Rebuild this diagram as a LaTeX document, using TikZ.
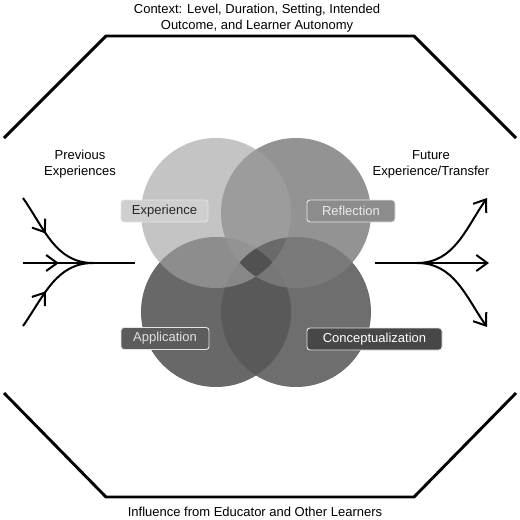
\documentclass[tikz,border=0pt]{standalone}
\usepackage{fontspec}
\setmainfont{Liberation Sans}
\usetikzlibrary{arrows.meta,decorations.markings}
\definecolor{expfill}{gray}{0.635}
\definecolor{reffill}{gray}{0.49}
\definecolor{appfill}{gray}{0.306}
\definecolor{confill}{gray}{0.345}
\definecolor{rimgray}{gray}{0.9}
\begin{document}
\begin{tikzpicture}[x=1pt,y=-1pt]
    \tikzstyle{every node}+=[inner sep=0pt]
    \tikzstyle{rim}=[black, line width=2.9pt, line join=miter]
    \tikzstyle{flow}=[black, line width=2pt]
    \tikzstyle{barb}=[-{Straight Barb[length=11pt,width=16pt]}]
    \tikzstyle{midbarb}=[postaction={decorate}, decoration={markings, mark=at position #1 with {\arrow{Straight Barb[length=11pt,width=16pt]}}}]
    \tikzstyle{caption}=[align=center, font=\fontsize{13}{16}\selectfont]
    \tikzstyle{phase}=[rounded corners=3pt, draw=rimgray, line width=0.9pt, minimum height=22pt, font=\fontsize{13}{15}\selectfont]
    \useasboundingbox (0,0) rectangle (520,520);
    \draw [rim] (4,138) -- (106,36) -- (414,36) -- (516,138);
    \draw [rim] (4,393) -- (106,497) -- (414,497) -- (516,393);
    \node (ctx) at (257,18.4) [caption] {Context: Level, Duration, Setting, Intended\\Outcome, and Learner Autonomy};
    \node (infl) at (255,512) [caption] {Influence from Educator and Other Learners};
    \node (prev) at (80,164) [caption] {Previous\\Experiences};
    \node (fut) at (431,164.5) [caption] {Future\\Experience/Transfer};
    \fill [appfill, fill opacity=0.85] (216,312) circle [radius=75pt];
    \fill [confill, fill opacity=0.87] (296,312) circle [radius=75pt];
    \fill [reffill, fill opacity=0.83] (296,213) circle [radius=75pt];
    \fill [expfill, fill opacity=0.63] (216,213) circle [radius=75pt];
    \begin{scope}
        \clip (216,213) circle [radius=75pt];
        \clip (296,213) circle [radius=75pt];
        \fill [black, fill opacity=0.28] (296,312) circle [radius=75pt];
        \clip (296,312) circle [radius=75pt];
        \fill [black, fill opacity=0.22] (216,312) circle [radius=75pt];
    \end{scope}
    \node (exp) at (164.5,211) [phase, fill=gray!38, text=black!85, minimum width=87pt] {Experience};
    \node (ref) at (351,211) [phase, fill=gray!90, text=white!92!black, minimum width=88pt] {Reflection};
    \node (app) at (165,338.5) [phase, fill=black!64, text=white!88!black, minimum width=88pt] {Application};
    \node (con) at (374.5,339) [phase, fill=black!72, text=white, minimum width=135pt] {Conceptualization};
    \coordinate (inA) at (23,198);
    \coordinate (inB) at (23,263);
    \coordinate (inC) at (23,326);
    \coordinate (join) at (93,263);
    \coordinate (joinEnd) at (135,263);
    \coordinate (forkStart) at (375,263);
    \coordinate (fork) at (417,263);
    \coordinate (outA) at (487,198);
    \coordinate (outB) at (489,263);
    \coordinate (outC) at (487,327);
    \draw [flow, midbarb=0.42] (inA) to [out=-55, in=180] (join);
    \draw [flow, midbarb=0.32] (inB) -- (joinEnd);
    \draw [flow, midbarb=0.42] (inC) to [out=55, in=180] (join);
    \draw [flow, barb] (forkStart) -- (outB);
    \draw [flow, barb] (fork) to [out=0, in=-125] (outA);
    \draw [flow, barb] (fork) to [out=0, in=125] (outC);
\end{tikzpicture}
\end{document}
